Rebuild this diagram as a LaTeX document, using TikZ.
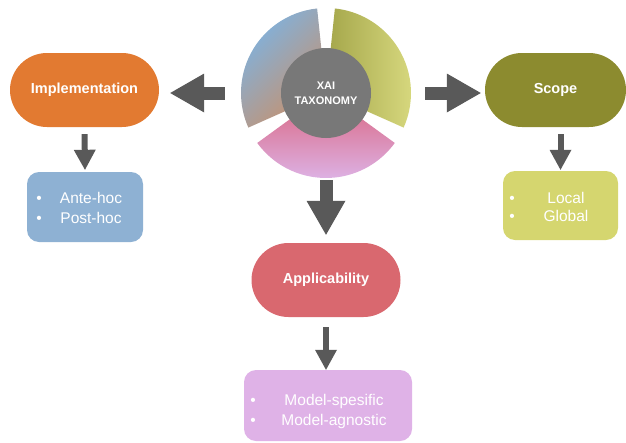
\documentclass[tikz,border=0pt]{standalone}
\usepackage{fontspec}
\setmainfont{Liberation Sans}
\usetikzlibrary{arrows.meta}
\definecolor{implc}{HTML}{E27A31}
\definecolor{scopec}{HTML}{8C8B2F}
\definecolor{applc}{HTML}{D9686F}
\definecolor{antec}{HTML}{8EB1D3}
\definecolor{localc}{HTML}{D5D66F}
\definecolor{modelc}{HTML}{DFB2E7}
\definecolor{arrowc}{HTML}{595959}
\definecolor{hubc}{HTML}{787878}
\definecolor{segblue}{HTML}{7DB3E2}
\definecolor{segbrown}{HTML}{C9906A}
\definecolor{segolive}{HTML}{A4A64A}
\definecolor{segyellow}{HTML}{D9DA80}
\definecolor{segpink}{HTML}{D9627C}
\definecolor{seglav}{HTML}{DDB3E6}
\tikzset{
  pill/.style={rounded corners=37pt, minimum width=149pt, minimum height=74pt, inner sep=0pt,
    text=white, font=\bfseries\fontsize{14.5}{17}\selectfont},
  listbox/.style={rounded corners=12pt, inner sep=0pt},
  item/.style={anchor=base, inner sep=0pt, text=white, font=\fontsize{15.5}{18}\selectfont},
  bigarrow/.style={draw=arrowc, line width=13pt, -{Triangle[length=34pt, width=39pt, line width=0pt]}},
  smallarrow/.style={draw=arrowc, line width=6pt, -{Triangle[length=20pt, width=22pt, line width=0pt]}}
}
\begin{document}
\begin{tikzpicture}[x=1pt, y=-1pt]
\useasboundingbox (0,0) rectangle (626,442);
% wheel
\node[circle, minimum size=170pt, inner sep=0pt] (ring) at (326,93) {};
\begin{scope}[shift={(326,93)}, y=1pt]
  \shade[top color=segblue, bottom color=segbrown, shading angle=45]
    (0,0) -- (96:85) arc[start angle=96, end angle=204, radius=85] -- cycle;
  \shade[left color=segolive, right color=segyellow]
    (0,0) -- (-24:85) arc[start angle=-24, end angle=84, radius=85] -- cycle;
  \shade[top color=segpink, bottom color=seglav]
    (0,0) -- (216:85) arc[start angle=216, end angle=324, radius=85] -- cycle;
\end{scope}
\node[circle, fill=hubc, minimum size=90pt, inner sep=0pt, align=center, text=white,
  font=\bfseries\fontsize{11}{15}\selectfont] (hub) at (326,93) {XAI\\TAXONOMY};
% main nodes
\node[pill, fill=implc] (impl) at (84.5,90) {Implementation};
\node[pill, fill=scopec, minimum width=141pt] (scope) at (555.5,90) {Scope};
\node[pill, fill=applc] (appl) at (326,280) {Applicability};
% list boxes
\node[listbox, fill=antec, minimum width=116pt, minimum height=70pt] (ante) at (85,207) {};
\node[listbox, fill=localc, minimum width=115pt, minimum height=69pt] (local) at (560.5,205.5) {};
\node[listbox, fill=modelc, minimum width=168pt, minimum height=71pt] (model) at (328,405.5) {};
% list items
\node[item] (b1) at (39,203) {•};
\node[item] (b2) at (39,223) {•};
\node[item] (t1) at (91,203) {Ante-hoc};
\node[item] (t2) at (91,223) {Post-hoc};
\node[item] (b3) at (512,203) {•};
\node[item] (b4) at (512,221) {•};
\node[item] (t3) at (566,203) {Local};
\node[item] (t4) at (566,221) {Global};
\node[item] (b5) at (253,405) {•};
\node[item] (b6) at (253,425) {•};
\node[item] (t5) at (334,405) {Model-spesific};
\node[item] (t6) at (334,425) {Model-agnostic};
% arrows
\draw[bigarrow, shorten <=16pt, shorten >=11pt] (ring.west) -- (ring.west -| impl.east);
\draw[bigarrow, shorten <=14pt, shorten >=4pt] (ring.east) -- (ring.east -| scope.west);
\draw[bigarrow, shorten <=2pt, shorten >=8pt] (ring.south) -- (appl.north);
\draw[smallarrow, shorten <=7pt, shorten >=2pt] (impl.south) -- (ante.north);
\draw[smallarrow, shorten <=7pt, shorten >=1pt] (local.north |- scope.south) -- (local.north);
\draw[smallarrow, shorten <=10pt, shorten >=0pt] (appl.south) -- (appl.south |- model.north);
\end{tikzpicture}
\end{document}
